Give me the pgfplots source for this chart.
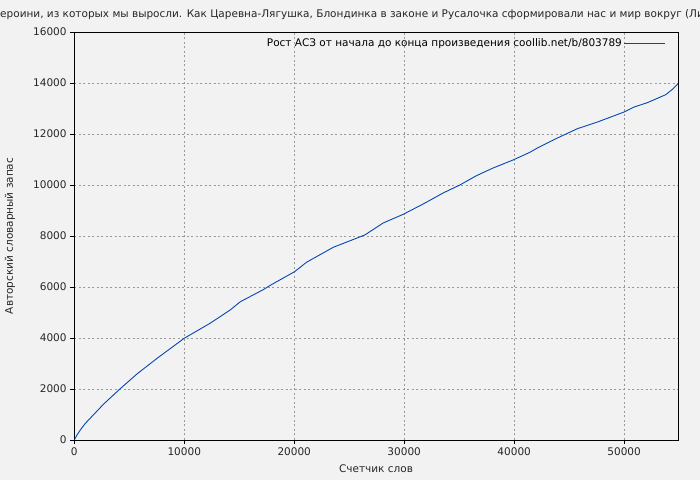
\documentclass[border=0pt]{standalone}
\usepackage{pgfplots}
\pgfplotsset{compat=1.18}
\usepackage{fontspec}
\setmainfont{DejaVu Sans}
\definecolor{bg}{HTML}{F2F2F2}
\definecolor{curve}{HTML}{0546B4}
\definecolor{gridc}{HTML}{9A9A9A}
\begin{document}
\fontsize{10.5bp}{12bp}\selectfont
\begin{tikzpicture}[x=1bp,y=1bp]
\fill[bg] (0,0) rectangle (700,480);
\begin{axis}[
    at={(74.3bp,40bp)}, anchor=south west,
    scale only axis, width=603.7bp, height=408bp,
    xmin=0, xmax=54900, ymin=0, ymax=16000,
    xtick={0,10000,20000,30000,40000,50000},
    ytick={0,2000,4000,6000,8000,10000,12000,14000,16000},
    scaled ticks=false,
    /pgf/number format/set thousands separator={},
    /pgf/number format/assume math mode=true,
    tick label style={font=\fontsize{10.5bp}{12bp}\selectfont, black!85},
    xtick pos=left, ytick pos=left, tick align=outside,
    major tick length=4bp,
    tick style={black, line width=0.8bp},
    axis line style={black, line width=0.9bp},
    grid=major,
    major grid style={gridc, line width=0.8bp, dash pattern=on 2bp off 2.5bp},
    axis background/.style={fill=bg},
    legend style={draw=none, fill=none, at={(rel axis cs:0.985,0.995)}, anchor=north east,
      legend cell align=right, font=\fontsize{10.5bp}{12bp}\selectfont},
    legend plot pos=right,
    legend image code/.code={\path (0bp,0bp) -- (8bp,0bp); \draw[#1] (8bp,0bp) -- (41bp,0bp);},
  ]
  \addplot[curve, line width=0.9bp] table {
    0 0
    242 196
    545 392
    1000 650
    2670 1410
    4120 1990
    5700 2590
    7520 3200
    10000 3990
    12360 4580
    14180 5100
    15090 5420
    17200 5900
    17800 6060
    20030 6600
    21120 6970
    23545 7556
    26420 8040
    28090 8510
    29910 8850
    31730 9255
    33540 9686
    35060 10000
    36570 10366
    38090 10667
    39950 10990
    41420 11280
    42120 11451
    43940 11844
    45760 12210
    47580 12470
    50000 12863
    50910 13059
    52120 13229
    53790 13543
    54390 13752
    54900 13974
  };
  \addlegendentry{Рост АСЗ от начала до конца произведения coollib.net/b/803789}
\end{axis}
\node[anchor=base west, black!85] at (-9,462) {героини, из которых мы выросли. Как Царевна-Лягушка, Блондинка в законе и Русалочка сформировали нас и мир вокруг (Лиз};
\node[black!85] at (376,11) {Счетчик слов};
\node[black!85, rotate=90] at (10,244) {Авторский словарный запас};
\pgfresetboundingbox
\path (0,0) rectangle (700,480);
\end{tikzpicture}
\end{document}
